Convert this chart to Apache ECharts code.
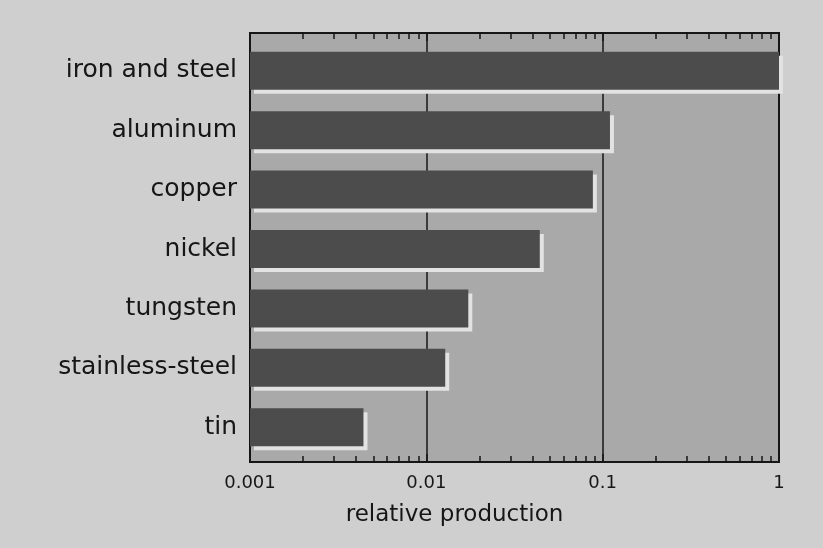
<!DOCTYPE html>
<html>
<head>
<meta charset="utf-8">
<script src="https://cdn.jsdelivr.net/npm/echarts@6/dist/echarts.min.js"></script>
<style>
  html, body { margin: 0; padding: 0; background: #cfcfcf; }
  #chart { width: 823px; height: 548px; }
</style>
</head>
<body>
<div id="chart"></div>
<script>
const categories = ['iron and steel', 'aluminum', 'copper', 'nickel', 'tungsten', 'stainless-steel', 'tin'];
const production = [1, 0.11, 0.088, 0.044, 0.0173, 0.0128, 0.0044];
const xMin = 0.001;
const xMax = 1;

document.addEventListener('DOMContentLoaded', () => {
    initProductionChart();
});

function initProductionChart() {
    const container = document.getElementById('chart');
    const chart = echarts.init(container, null, { renderer: 'canvas' });
    const font = 'DejaVu Sans';
    const ink = '#161616';
    const logAxis = {
        type: 'log',
        logBase: 10,
        min: xMin,
        max: xMax
    };
    const option = {
        backgroundColor: '#cfcfcf',
        animation: false,
        grid: [
            // frame + background
            { left: 250, right: 44, top: 33, bottom: 86, show: true,
              backgroundColor: '#a9a9a9', borderColor: ink, borderWidth: 2 },
            // bars
            { left: 250, right: 44, top: 41, bottom: 91 }
        ],
        xAxis: [
            Object.assign({}, logAxis, {
                gridIndex: 0,
                position: 'bottom',
                axisLine: { show: true, lineStyle: { color: ink, width: 2 } },
                axisTick: { show: true, inside: true, length: 8, lineStyle: { color: ink, width: 1.5 } },
                minorTick: { show: true, splitNumber: 9, length: 6, lineStyle: { color: ink, width: 1.5 } },
                splitLine: { show: true, lineStyle: { color: ink, width: 1.5 } },
                axisLabel: { fontFamily: font, fontSize: 18, color: ink, margin: 12 },
                name: 'relative production',
                nameLocation: 'middle',
                nameGap: 42,
                nameTextStyle: { fontFamily: font, fontSize: 23, color: ink, padding: [0, 120, 0, 0] }
            }),
            Object.assign({}, logAxis, {
                gridIndex: 0,
                position: 'top',
                axisLine: { show: true, lineStyle: { color: ink, width: 2 } },
                axisTick: { show: true, inside: true, length: 8, lineStyle: { color: ink, width: 1.5 } },
                minorTick: { show: true, splitNumber: 9, length: 6, lineStyle: { color: ink, width: 1.5 } },
                splitLine: { show: false },
                axisLabel: { show: false }
            }),
            Object.assign({}, logAxis, {
                gridIndex: 1,
                startValue: xMin,
                show: false
            })
        ],
        yAxis: [
            { gridIndex: 0, type: 'value', show: false },
            {
                gridIndex: 1,
                type: 'category',
                inverse: true,
                data: categories,
                axisLine: { show: false },
                axisTick: { show: false },
                splitLine: { show: false },
                axisLabel: { fontFamily: font, fontSize: 25, color: ink, margin: 13 }
            }
        ],
        series: [{
            type: 'bar',
            xAxisIndex: 2,
            yAxisIndex: 1,
            data: production,
            barWidth: 38,
            itemStyle: {
                color: '#4c4c4c',
                shadowColor: '#e2e2e2',
                shadowOffsetX: 4,
                shadowOffsetY: 4,
                shadowBlur: 0
            }
        }]
    };
    chart.setOption(option);
    window.addEventListener('resize', () => chart.resize());
}
</script>
</body>
</html>
